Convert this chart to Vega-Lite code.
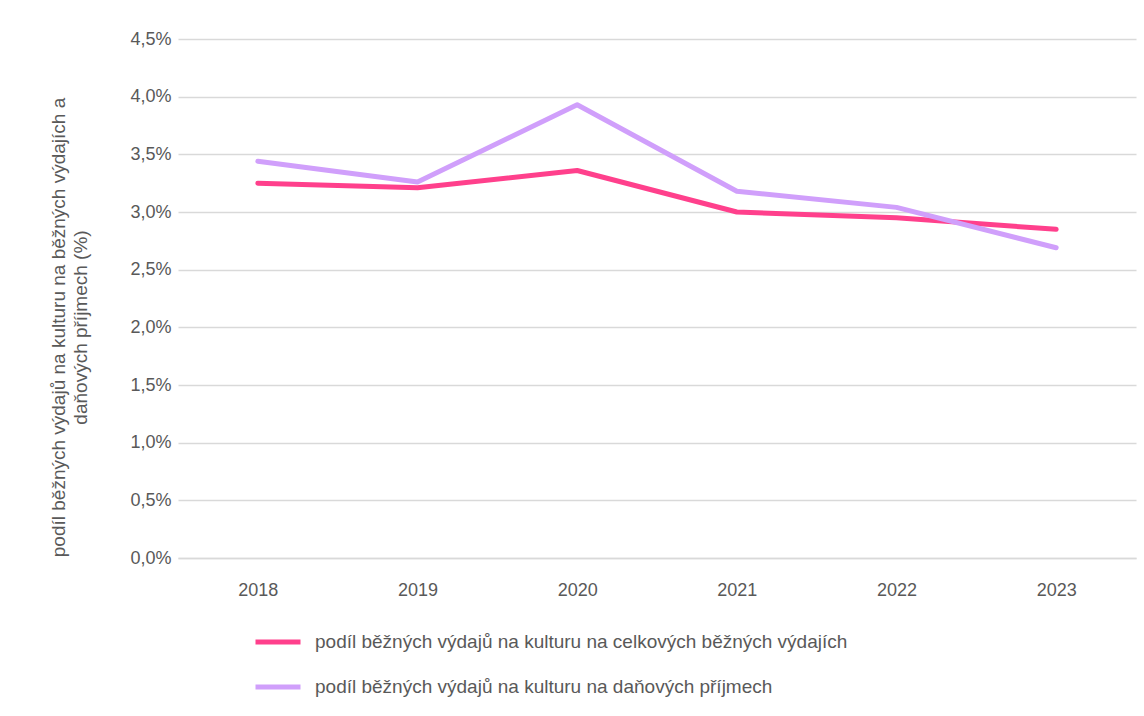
{
  "$schema": "https://vega.github.io/schema/vega-lite/v6.json",
  "width": 958,
  "height": 519,
  "autosize": {"type": "none"},
  "padding": {"left": 178, "top": 39, "right": 8, "bottom": 158},
  "background": "white",
  "config": {
    "view": {"stroke": null},
    "font": "Liberation Sans",
    "axis": {"labelColor": "#595959", "titleColor": "#595959", "labelFont": "Liberation Sans", "titleFont": "Liberation Sans"},
    "legend": {"labelFont": "Liberation Sans"}
  },
  "data": {
    "values": [
      {"rok": "2018", "serie": "podíl běžných výdajů na kulturu na celkových běžných výdajích", "hodnota": 3.25},
      {"rok": "2019", "serie": "podíl běžných výdajů na kulturu na celkových běžných výdajích", "hodnota": 3.21},
      {"rok": "2020", "serie": "podíl běžných výdajů na kulturu na celkových běžných výdajích", "hodnota": 3.36},
      {"rok": "2021", "serie": "podíl běžných výdajů na kulturu na celkových běžných výdajích", "hodnota": 3.00},
      {"rok": "2022", "serie": "podíl běžných výdajů na kulturu na celkových běžných výdajích", "hodnota": 2.95},
      {"rok": "2023", "serie": "podíl běžných výdajů na kulturu na celkových běžných výdajích", "hodnota": 2.85},
      {"rok": "2018", "serie": "podíl běžných výdajů na kulturu na daňových příjmech", "hodnota": 3.44},
      {"rok": "2019", "serie": "podíl běžných výdajů na kulturu na daňových příjmech", "hodnota": 3.26},
      {"rok": "2020", "serie": "podíl běžných výdajů na kulturu na daňových příjmech", "hodnota": 3.93},
      {"rok": "2021", "serie": "podíl běžných výdajů na kulturu na daňových příjmech", "hodnota": 3.18},
      {"rok": "2022", "serie": "podíl běžných výdajů na kulturu na daňových příjmech", "hodnota": 3.04},
      {"rok": "2023", "serie": "podíl běžných výdajů na kulturu na daňových příjmech", "hodnota": 2.69}
    ]
  },
  "mark": {"type": "line", "strokeWidth": 5, "strokeCap": "round", "strokeJoin": "round"},
  "encoding": {
    "x": {
      "field": "rok", "type": "ordinal",
      "scale": {"type": "point", "padding": 0.5},
      "axis": {"title": null, "labelAngle": 0, "labelFontSize": 18, "labelPadding": 23, "ticks": false, "domain": true, "domainColor": "#d9d9d9", "domainWidth": 1.5}
    },
    "y": {
      "field": "hodnota", "type": "quantitative",
      "scale": {"domain": [0, 4.5], "nice": false},
      "axis": {
        "values": [0, 0.5, 1, 1.5, 2, 2.5, 3, 3.5, 4, 4.5],
        "labelExpr": "replace(format(datum.value, '.1f'), '.', ',') + '%'",
        "labelFontSize": 18, "labelPadding": 7,
        "ticks": false, "domain": false,
        "gridColor": "#d9d9d9", "gridWidth": 1.5,
        "title": ["podíl běžných výdajů na kulturu na běžných výdajích a", "daňových příjmech (%)"],
        "titleFontSize": 19, "titleFontWeight": "normal", "titleLineHeight": 22,
        "titleX": -110, "titleY": 288, "titleAlign": "center", "titleBaseline": "bottom"
      }
    },
    "color": {
      "field": "serie", "type": "nominal",
      "scale": {
        "domain": ["podíl běžných výdajů na kulturu na celkových běžných výdajích", "podíl běžných výdajů na kulturu na daňových příjmech"],
        "range": ["#FF408C", "#D09FFB"]
      },
      "legend": {
        "title": null, "orient": "none", "legendX": 75, "legendY": 578,
        "symbolType": "stroke", "symbolSize": 2025, "symbolStrokeWidth": 5,
        "labelFontSize": 19, "labelColor": "#595959", "labelOffset": 12, "labelLimit": 800,
        "rowPadding": 10
      }
    }
  }
}
